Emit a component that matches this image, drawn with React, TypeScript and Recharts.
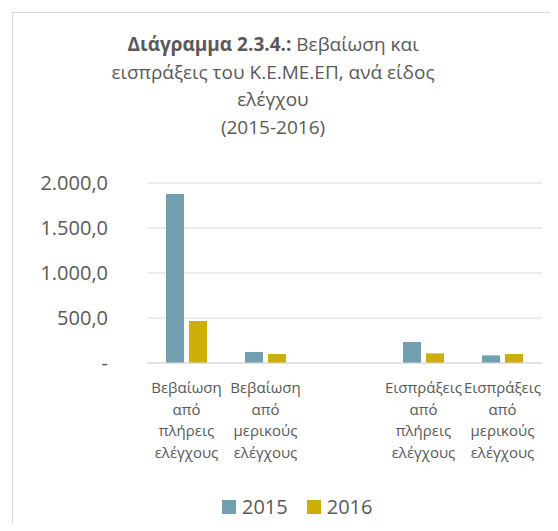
import React from "react";
import { BarChart, Bar, XAxis, YAxis, CartesianGrid, Legend } from "recharts";

const categories = [
  "Βεβαίωση από πλήρεις ελέγχους",
  "Βεβαίωση από μερικούς ελέγχους",
  "",
  "Εισπράξεις από πλήρεις ελέγχους",
  "Εισπράξεις από μερικούς ελέγχους",
];
const values2015 = [1878, 122, null, 233, 85];
const values2016 = [467, 100, null, 107, 100];
const yTicks = [0, 500, 1000, 1500, 2000];

const data = categories.map((name, i) => ({
  name,
  y2015: values2015[i],
  y2016: values2016[i],
}));

const FONT = "'Open Sans', sans-serif";
const TEXT = "#595959";
const GRID = "#d9d9d9";
const C2015 = "#72a0b0";
const C2016 = "#ccaf0a";

const fmt = (v: number) =>
  v === 0
    ? "-"
    : v.toLocaleString("de-DE", { minimumFractionDigits: 1, maximumFractionDigits: 1 });

function CategoryTick(props: any) {
  const { x, y, payload } = props;
  const words = String(payload.value).split(" ").filter(Boolean);
  return (
    <g>
      {words.map((w: string, i: number) => (
        <text
          key={i}
          x={x}
          y={y + 24 + i * 21.7}
          textAnchor="middle"
          dominantBaseline="central"
          fontSize={15}
          fontFamily={FONT}
          fill={TEXT}
        >
          {w}
        </text>
      ))}
    </g>
  );
}

function LegendContent() {
  const items = [
    { label: "2015", color: C2015 },
    { label: "2016", color: C2016 },
  ];
  return (
    <div style={{ display: "flex", alignItems: "center", height: 30 }}>
      {items.map((it) => (
        <div key={it.label} style={{ display: "flex", alignItems: "center", marginRight: 19 }}>
          <span style={{ width: 14, height: 14, background: it.color, display: "inline-block", marginRight: 6 }} />
          <span style={{ fontFamily: FONT, fontSize: 20, color: TEXT, lineHeight: "30px" }}>{it.label}</span>
        </div>
      ))}
    </div>
  );
}

export default function App() {
  return (
    <div
      style={{
        position: "absolute",
        left: 12,
        top: 12,
        width: 537,
        height: 511,
        borderLeft: `1px solid ${GRID}`,
        borderTop: `1px solid ${GRID}`,
        overflow: "hidden",
        background: "#fff",
      }}
    >
      <div
        style={{
          position: "absolute",
          left: 0,
          top: 18,
          width: 520,
          textAlign: "center",
          fontFamily: FONT,
          fontSize: 19,
          lineHeight: "27.5px",
          color: TEXT,
        }}
      >
        <b>Διάγραμμα 2.3.4.:</b> Βεβαίωση και
        <br />
        εισπράξεις του Κ.Ε.ΜΕ.ΕΠ, ανά είδος
        <br />
        ελέγχου
        <br />
        (2015-2016)
      </div>
      <div style={{ position: "absolute", left: 0, top: 0 }}>
        <BarChart
          width={535}
          height={511}
          data={data}
          margin={{ top: 170, right: 6, bottom: 2, left: 0 }}
          barSize={18}
          barGap={5}
        >
          <CartesianGrid vertical={false} stroke={GRID} />
          <XAxis
            dataKey="name"
            height={129}
            interval={0}
            tickLine={false}
            tickSize={0}
            tickMargin={0}
            axisLine={{ stroke: GRID }}
            tick={<CategoryTick />}
          />
          <YAxis
            width={134}
            domain={[0, 2000]}
            ticks={yTicks}
            tickFormatter={fmt}
            axisLine={false}
            tickLine={false}
            tickSize={0}
            tickMargin={39}
            tick={{ fontSize: 20, fontFamily: FONT, fill: TEXT }}
          />
          <Legend
            verticalAlign="bottom"
            align="left"
            height={30}
            wrapperStyle={{ left: 209 }}
            content={<LegendContent />}
          />
          <Bar dataKey="y2015" name="2015" fill={C2015} isAnimationActive={false} />
          <Bar dataKey="y2016" name="2016" fill={C2016} isAnimationActive={false} />
        </BarChart>
      </div>
    </div>
  );
}
